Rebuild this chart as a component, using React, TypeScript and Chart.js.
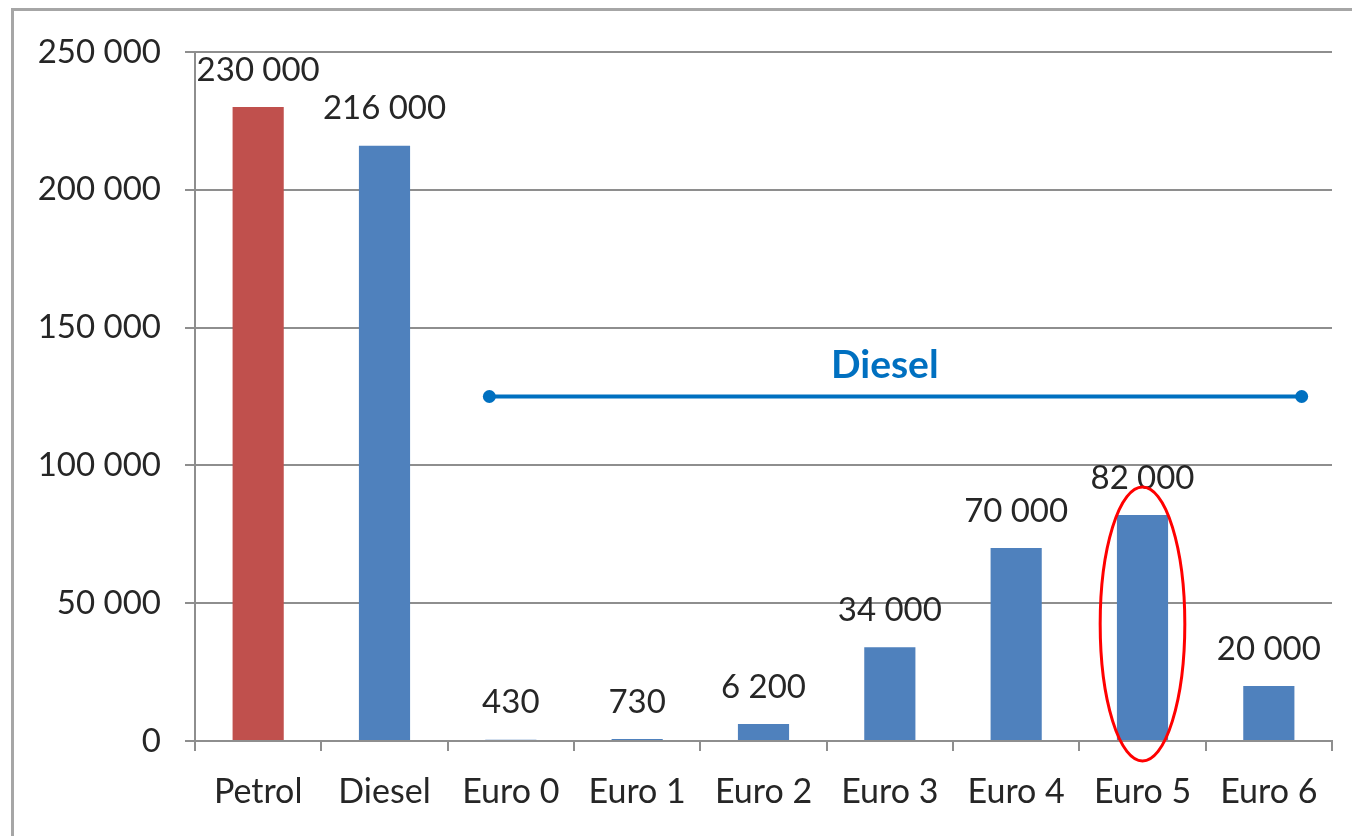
import React, { useEffect, useRef } from "react";
import { Chart, registerables } from "chart.js";

Chart.register(...registerables);

const categories = ["Petrol", "Diesel", "Euro 0", "Euro 1", "Euro 2", "Euro 3", "Euro 4", "Euro 5", "Euro 6"];
const values = [230000, 216000, 430, 730, 6200, 34000, 70000, 82000, 20000];
const barColors = ["#C0504D", "#4F81BD", "#4F81BD", "#4F81BD", "#4F81BD", "#4F81BD", "#4F81BD", "#4F81BD", "#4F81BD"];
const yTickValues = [0, 50000, 100000, 150000, 200000, 250000];

const dieselLabel = "Diesel";
const dieselSpanStart = 1.83; // category index units
const dieselSpanEnd = 8.26;
const dieselLabelAt = 4.96;
const dieselLevel = 125000;
const highlightIndex = 7;

const FONT = "Lato, 'Open Sans', sans-serif";

function fmt(v: number, sep: string): string {
  return String(v).replace(/\B(?=(\d{3})+(?!\d))/g, sep);
}

const annotationPlugin = {
  id: "annotations",
  afterDatasetsDraw(chart: any) {
    const ctx = chart.ctx;
    const x = chart.scales.x;
    const y = chart.scales.y;
    const meta = chart.getDatasetMeta(0);
    ctx.save();
    // data labels
    ctx.font = `33px ${FONT}`;
    ctx.fillStyle = "#262626";
    ctx.textAlign = "center";
    ctx.textBaseline = "middle";
    meta.data.forEach((el: any, i: number) => {
      ctx.fillText(fmt(values[i], "\u202F"), el.x, el.y - 37);
    });
    // Diesel span line
    const x1 = x.getPixelForValue(dieselSpanStart);
    const x2 = x.getPixelForValue(dieselSpanEnd);
    const yl = y.getPixelForValue(dieselLevel);
    ctx.strokeStyle = "#0070C0";
    ctx.fillStyle = "#0070C0";
    ctx.lineWidth = 4;
    ctx.beginPath();
    ctx.moveTo(x1, yl);
    ctx.lineTo(x2, yl);
    ctx.stroke();
    [x1, x2].forEach((px) => {
      ctx.beginPath();
      ctx.arc(px, yl, 6.5, 0, Math.PI * 2);
      ctx.fill();
    });
    ctx.font = `bold 39px ${FONT}`;
    ctx.fillText(dieselLabel, x.getPixelForValue(dieselLabelAt), yl - 31);
    // highlight ellipse
    const cx = x.getPixelForValue(highlightIndex);
    const catW = x.getPixelForValue(1) - x.getPixelForValue(0);
    const ytop = y.getPixelForValue(values[highlightIndex]);
    const ybot = y.getPixelForValue(0);
    const cy = (ytop + ybot) / 2 - 4;
    const ry = (ybot - ytop) / 2 + 24;
    ctx.strokeStyle = "#FF0000";
    ctx.lineWidth = 3;
    ctx.beginPath();
    ctx.ellipse(cx, cy, catW * 0.335, ry, 0, 0, Math.PI * 2);
    ctx.stroke();
    ctx.restore();
  },
};

export default function App() {
  const ref = useRef<HTMLCanvasElement>(null);
  useEffect(() => {
    if (!ref.current) return;
    const chart = new Chart(ref.current, {
      type: "bar",
      data: {
        labels: categories,
        datasets: [
          {
            data: values,
            backgroundColor: barColors,
            barPercentage: 0.405,
            categoryPercentage: 1,
          },
        ],
      },
      options: {
        animation: false,
        responsive: false,
        devicePixelRatio: 1,
        layout: { padding: { left: 0, right: 20, top: 52, bottom: 0 } },
        plugins: { legend: { display: false }, tooltip: { enabled: false } },
        scales: {
          x: {
            grid: { drawOnChartArea: false, tickLength: 10, color: "#8E8E8E", lineWidth: 2, offset: true },
            border: { display: true, color: "#8E8E8E", width: 2 },
            ticks: { font: { family: FONT, size: 34 }, color: "#262626", padding: 21, maxRotation: 0 },
            afterFit: (s: any) => {
              s.height = 95;
            },
          },
          y: {
            min: 0,
            max: 250000,
            afterBuildTicks: (s: any) => {
              s.ticks = yTickValues.map((v) => ({ value: v }));
            },
            grid: { color: "#8E8E8E", lineWidth: 2, tickLength: 10 },
            border: { display: true, color: "#8E8E8E", width: 2 },
            ticks: {
              font: { family: FONT, size: 33 },
              color: "#262626",
              padding: 24,
              callback: (v: any) => fmt(Number(v), " "),
            },
            afterFit: (s: any) => {
              s.width = 195;
            },
          },
        },
      },
      plugins: [annotationPlugin],
    });
    return () => chart.destroy();
  }, []);

  return (
    <div style={{ position: "absolute", left: 0, top: 0, width: 1352, height: 836, background: "#fff", overflow: "hidden" }}>
      <div
        style={{
          position: "absolute",
          left: 11,
          top: 8,
          width: 1400,
          height: 900,
          border: "3px solid #A6A6A6",
          boxSizing: "border-box",
        }}
      />
      <canvas ref={ref} width={1352} height={836} style={{ position: "absolute", left: 0, top: 0 }} />
    </div>
  );
}
